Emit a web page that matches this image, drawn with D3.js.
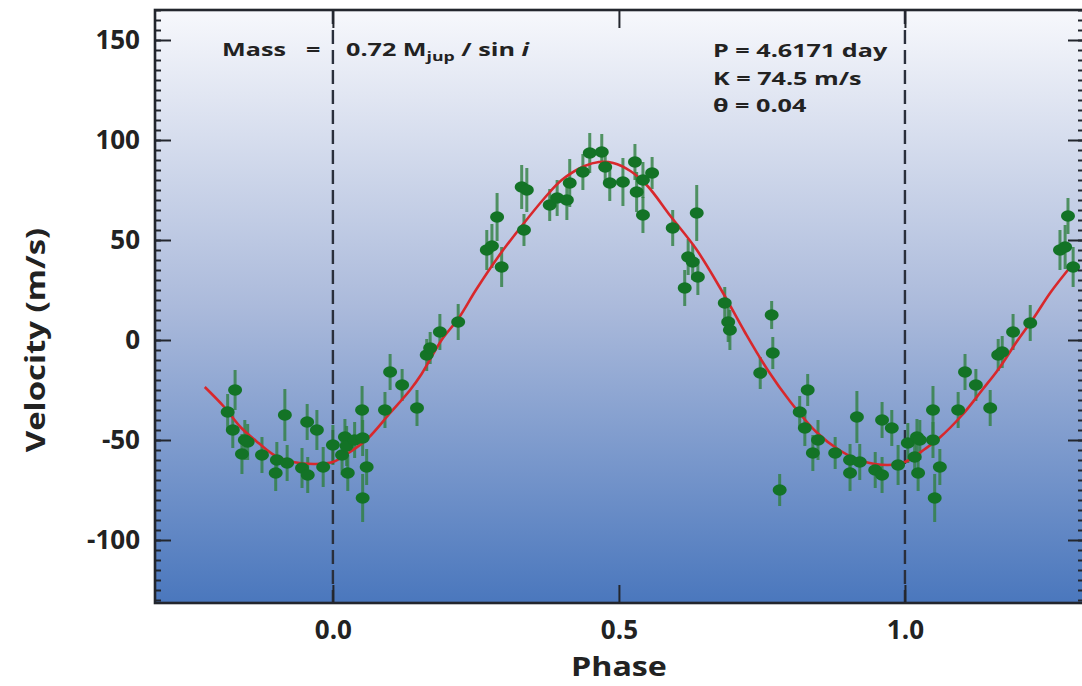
<!DOCTYPE html>
<html>
<head>
<meta charset="utf-8">
<script src="https://cdn.jsdelivr.net/npm/d3@7"></script>
<style>
  body { margin: 0; background: #fff; }
  svg { display: block; font-family: "Open Sans", "Noto Sans", sans-serif; }
</style>
</head>
<body>
<svg id="chart" width="1082" height="686"></svg>
<script>
// radial velocity points (phase, m/s, error)
var phase = [-0.171,-0.184,-0.175,-0.154,-0.159,-0.149,-0.124,-0.098,-0.100,-0.084,-0.080,-0.054,-0.044,-0.045,-0.028,-0.017,
  0.000,0.016,0.021,0.024,0.026,0.038,0.051,0.052,0.059,0.052,0.091,0.100,0.121,0.147,0.164,0.170,0.187,0.219,
  0.269,0.278,0.295,0.287,0.330,0.339,0.334,0.379,0.392,0.409,0.414,0.437,0.449,0.470,0.476,0.484,0.507,0.528,0.531,
  0.542,0.558,0.542,0.594,0.636,0.621,0.629,0.638,0.615,0.685,0.691,0.694,0.767,0.769,0.747,0.830,0.816,0.825,0.848,
  0.839,0.878,0.904,0.904,0.916,0.781,0.960,0.977,0.921,0.948,0.960,0.988,
  1.005,1.021,1.026,1.017,1.023,1.049,1.049,1.061,1.052,1.093,1.105,1.124,1.149,1.163,1.170,1.189,1.219,1.271,1.280,1.294,1.285]
var velocity = [-25,-36,-45,-50,-57,-51,-57.5,-60,-66.5,-37.5,-61.5,-64,-67.5,-41,-45,-63.5,
  -52.5,-57.5,-48.5,-53,-66.5,-50,-35,-49,-63.5,-79,-35,-16,-22.5,-34,-7.5,-4,4,9,
  45,47,36.5,61.5,76.5,75,55,67.5,71,70,78.5,84,93.5,94,86.5,78.5,79,89,74,
  80,83.5,62.5,56,63.5,41.5,39,31.5,26,18.5,9,5,12.5,-6.5,-16.5,-25,-36,-44,-50,
  -56.5,-56.5,-60,-66.5,-38.5,-75,-40,-44,-61,-65,-67.5,-62.5,
  -51.5,-48.5,-50,-58.5,-66.5,-50,-35,-63.5,-79,-35,-16,-22.5,-34,-7.5,-6,4,8.5,45,46.5,36.5,62]
var errors = [10,9,9,10,10,9,9,9,9,13,9,10,9,9,10,10,
  10,10,9,10,9,9,12,9,9,12,9,9,8,9,8,8,9,9,
  10,11,10,12,11,11,8,8,9,10,12,9,10,9,8,9,12,9,10,
  9,8,9,9,14,9,9,9,9,8,10,10,7,8,8,8,8,9,10,
  9,8,8,9,13,8,9,9,9,9,9,10,
  10,9,10,10,9,9,12,9,12,9,9,8,9,8,8,9,9,10,11,10,9]

// orbit fit
var fitPhase = [-0.224,-0.19,-0.16,-0.13,-0.1,-0.07,-0.03,0,0.03,0.06,0.1,0.135,0.155,0.19,0.22,0.25,0.29,0.33,0.37,0.4,
  0.44,0.465,0.49,0.52,0.55,0.59,0.635,0.68,0.72,0.76,0.8,0.845,0.885,0.925,0.97,1.0,1.035,1.06,1.1,1.135,1.165,1.195,1.225,1.255,1.292]
var fitVelocity = [-23.5,-33.5,-44,-51.5,-58,-61,-62,-61,-56,-49.5,-36.5,-25,-17,0,11,25,42,57,71,80,
  87,89,88.5,84.5,77,62,45.5,24.5,4,-15,-31,-46,-55,-60.5,-62.5,-61,-54.5,-49,-37.5,-25,-14,-1,11,24,37.5]

var yMajor = [-100,-50,0,50,100,150]
var xMajor = [0.0,0.5,1.0]
var xLabels = ["0.0","0.5","1.0"]

const svg = d3.select("#chart")
const mLeft = 155, mTop = 10, mRight = 1084, mBottom = 603

const x = d3.scaleLinear().domain([-0.311, 1.313]).range([mLeft, mRight])
const y = d3.scaleLinear().domain([-131.5, 165]).range([mBottom, mTop])

const defs = svg.append("defs")
const grad = defs.append("linearGradient").attr("id", "bg").attr("x1", 0).attr("y1", 0).attr("x2", 0).attr("y2", 1)
grad.append("stop").attr("offset", "0%").attr("stop-color", "#f7f8fc")
grad.append("stop").attr("offset", "50%").attr("stop-color", "#abbadb")
grad.append("stop").attr("offset", "100%").attr("stop-color", "#4a77bd")
defs.append("clipPath").attr("id", "clip").append("rect")
  .attr("x", mLeft).attr("y", mTop).attr("width", mRight - mLeft).attr("height", mBottom - mTop)

svg.append("rect")
  .attr("x", mLeft).attr("y", mTop).attr("width", mRight - mLeft).attr("height", mBottom - mTop)
  .attr("fill", "url(#bg)")

const plot = svg.append("g").attr("clip-path", "url(#clip)")

// dashed phase markers
plot.selectAll(".vline").data([0, 1]).join("line")
  .attr("x1", d => x(d)).attr("x2", d => x(d))
  .attr("y1", mTop).attr("y2", mBottom)
  .attr("stroke", "#2a2f3c").attr("stroke-width", 2.4)
  .attr("stroke-dasharray", "14,6")

const pts = phase.map((p, i) => ({p: p, v: velocity[i], e: errors[i]}))

plot.selectAll(".err").data(pts).join("line")
  .attr("x1", d => x(d.p)).attr("x2", d => x(d.p))
  .attr("y1", d => y(d.v + d.e)).attr("y2", d => y(d.v - d.e))
  .attr("stroke", "#2f7f40").attr("stroke-opacity", 0.8).attr("stroke-width", 3)

const line = d3.line().x((d, i) => x(fitPhase[i])).y(d => y(d)).curve(d3.curveCatmullRom)
plot.append("path")
  .datum(fitVelocity)
  .attr("d", line)
  .attr("fill", "none").attr("stroke", "#d8282c").attr("stroke-width", 2.6)

plot.selectAll(".dot").data(pts).join("ellipse")
  .attr("cx", d => x(d.p)).attr("cy", d => y(d.v))
  .attr("rx", 7).attr("ry", 5.8)
  .attr("fill", "#137326")

// axes
const minor = d3.range(-130, 166, 5)
const axisStyle = g => {
  g.select(".domain").remove()
  g.selectAll(".tick line").attr("stroke", "#23262d").attr("stroke-width", 2)
}
const labelStyle = g => g.selectAll(".tick text")
  .attr("font-size", 26).attr("font-weight", "bold").attr("fill", "#222")
  .attr("font-family", "'Open Sans', sans-serif")

svg.append("g").attr("transform", `translate(${mLeft},0)`)
  .call(d3.axisLeft(y).tickValues(minor).tickSize(-6).tickFormat(""))
  .call(axisStyle)
svg.append("g").attr("transform", `translate(${mRight},0)`)
  .call(d3.axisRight(y).tickValues(minor).tickSize(-6).tickFormat(""))
  .call(axisStyle)

svg.append("g").attr("transform", `translate(${mLeft},0)`)
  .call(d3.axisLeft(y).tickValues(yMajor).tickSize(-16).tickPadding(15).tickFormat(d => String(d)))
  .call(axisStyle)
  .call(labelStyle)
svg.append("g").attr("transform", `translate(${mRight},0)`)
  .call(d3.axisRight(y).tickValues(yMajor).tickSize(-16).tickFormat(""))
  .call(axisStyle)

svg.append("g").attr("transform", `translate(0,${mBottom})`)
  .call(d3.axisBottom(x).tickValues(xMajor).tickSize(-18).tickPadding(18).tickFormat((d, i) => xLabels[i]))
  .call(axisStyle)
  .call(labelStyle)
svg.append("g").attr("transform", `translate(0,${mTop})`)
  .call(d3.axisTop(x).tickValues(xMajor).tickSize(-18).tickFormat(""))
  .call(axisStyle)

// frame
svg.append("rect")
  .attr("x", mLeft).attr("y", mTop).attr("width", mRight - mLeft).attr("height", mBottom - mTop)
  .attr("fill", "none").attr("stroke", "#23262d").attr("stroke-width", 2.6)

// titles, a little wider than the font's own proportions
svg.append("text")
  .attr("transform", `translate(${x(0.5)},676) scale(1.24,1)`)
  .attr("text-anchor", "middle").attr("font-size", 26).attr("font-weight", "bold").attr("fill", "#222")
  .text("Phase")

svg.append("text")
  .attr("transform", `translate(45,${y(0)}) rotate(-90) scale(1.22,1)`)
  .attr("text-anchor", "middle").attr("font-size", 27).attr("font-weight", "bold").attr("fill", "#222")
  .text("Velocity (m/s)")

// annotations
const ann = svg.append("g").attr("font-size", 18.5).attr("font-weight", "bold").attr("fill", "#222")
const note = (px, py) => ann.append("text").attr("transform", `translate(${px},${py}) scale(1.36,1)`)

note(222, 56).text("Mass")
note(306, 56).text("=")
const mass = note(346, 56)
mass.append("tspan").text("0.72 M")
mass.append("tspan").attr("font-size", 13).attr("dy", 5).text("jup")
mass.append("tspan").attr("dy", -5).text(" / sin ")
mass.append("tspan").attr("font-style", "italic").text("i")

note(713, 57).text("P = 4.6171 day")
note(713, 85).text("K = 74.5 m/s")
note(713, 112).text("θ = 0.04")
</script>
</body>
</html>
